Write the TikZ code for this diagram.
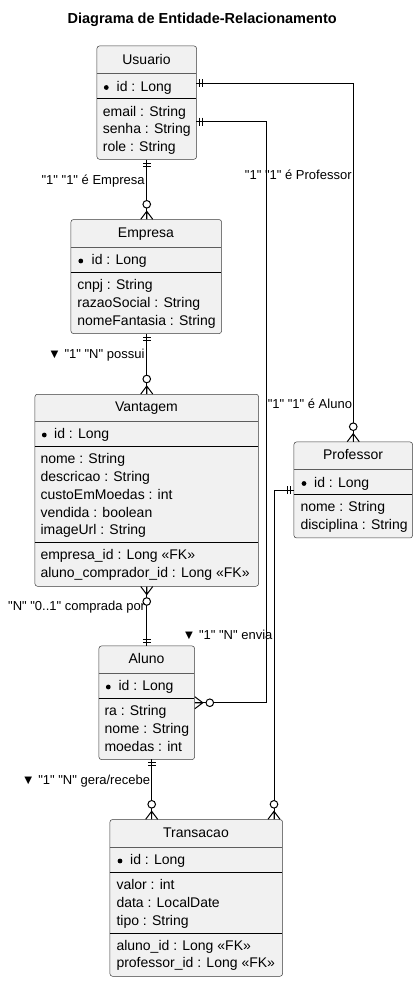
\documentclass[tikz,border=0pt]{standalone}
\usepackage{fontspec}
\setmainfont{Liberation Sans}[Ligatures=TeXOff]
\definecolor{fundo}{HTML}{F1F1F1}
\definecolor{borda}{HTML}{181818}

\tikzset{
    caixa/.style={draw=borda!85, line width=0.5pt, fill=fundo, rounded corners=2.5pt, inner sep=0pt, anchor=north west},
    linhatopo/.style={draw=borda!70, line width=0.5pt},
    linha/.style={draw=black, line width=1pt},
    titulo/.style={inner sep=0pt, font=\fontsize{14}{16}\selectfont, text height=10pt, text depth=3pt},
    attr/.style={titulo, anchor=west},
    rotulo/.style={inner sep=0pt, font=\fontsize{13}{15}\selectfont, text height=9.5pt, text depth=3pt},
    conector/.style={draw=black, line width=1pt},
    umsomente/.pic={\draw[conector] (3.5,-4) -- (3.5,4) (6.5,-4) -- (6.5,4);},
    zeromuitos/.pic={\draw[conector] (0,-6) -- (8,0) -- (0,6) (0,0) -- (8,0);
        \draw[conector, fill=white] (15,0) circle[radius=3.8pt];}
}

\begin{document}
\begin{tikzpicture}[x=1pt, y=-1pt]
    \useasboundingbox (0,0) rectangle (418,982);
    \node[font=\bfseries\fontsize{14.5}{16}\selectfont] (titulo) at (202.2,19.5) {Diagrama de Entidade-Relacionamento};

    % Usuario
    \node[caixa, minimum width=99.6pt, minimum height=113.3pt] (usuario) at (96.7,45.7) {};
    \node[titulo] at (146.5,60.5) {Usuario};
    \draw[linhatopo] (96.7,73.3) -- (196.3,73.3);
    \fill (106.3,87.5) circle[radius=2.4pt];
    \node[attr] at (116.5,87.7) {id : Long};
    \draw[linha] (96.7,98.7) -- (196.3,98.7);
    \node[attr] at (102.7,112.7) {email : String};
    \node[attr] at (102.7,130.3) {senha : String};
    \node[attr] at (102.7,147.9) {role : String};

    % Empresa
    \node[caixa, minimum width=150.6pt, minimum height=114pt] (empresa) at (70.7,219.3) {};
    \node[titulo] at (146,234) {Empresa};
    \draw[linhatopo] (70.7,247.5) -- (221.3,247.5);
    \fill (80.8,261) circle[radius=2.4pt];
    \node[attr] at (91.5,261) {id : Long};
    \draw[linha] (70.7,272) -- (221.3,272);
    \node[attr] at (77.2,286) {cnpj : String};
    \node[attr] at (77.2,303.8) {razaoSocial : String};
    \node[attr] at (77.2,321.6) {nomeFantasia : String};

    % Vantagem
    \node[caixa, minimum width=223.6pt, minimum height=192pt] (vantagem) at (34.7,394) {};
    \node[titulo] at (146.5,408.3) {Vantagem};
    \draw[linhatopo] (34.7,421.7) -- (258.3,421.7);
    \fill (44.3,435) circle[radius=2.4pt];
    \node[attr] at (54,435) {id : Long};
    \draw[linha] (34.7,446.3) -- (258.3,446.3);
    \node[attr] at (40.3,460.3) {nome : String};
    \node[attr] at (40.3,478.2) {descricao : String};
    \node[attr] at (40.3,496) {custoEmMoedas : int};
    \node[attr] at (40.3,513.5) {vendida : boolean};
    \node[attr] at (40.3,531.1) {imageUrl : String};
    \draw[linha] (34.7,542.7) -- (258.3,542.7);
    \node[attr] at (40.3,556.3) {empresa\_id : Long «FK»};
    \node[attr] at (40.3,574) {aluno\_comprador\_id : Long «FK»};

    % Professor
    \node[caixa, minimum width=118.6pt, minimum height=96pt] (professor) at (293.7,441.7) {};
    \node[titulo] at (353,456.3) {Professor};
    \draw[linhatopo] (293.7,469.3) -- (412.3,469.3);
    \fill (304,483.5) circle[radius=2.4pt];
    \node[attr] at (314,483.5) {id : Long};
    \draw[linha] (293.7,494.3) -- (412.3,494.3);
    \node[attr] at (300.3,508) {nome : String};
    \node[attr] at (300.3,525.7) {disciplina : String};

    % Aluno
    \node[caixa, minimum width=95.6pt, minimum height=113.6pt] (aluno) at (98.7,645.7) {};
    \node[titulo] at (146.5,660.3) {Aluno};
    \draw[linhatopo] (98.7,673.3) -- (194.3,673.3);
    \fill (108.3,687) circle[radius=2.4pt];
    \node[attr] at (118.3,687) {id : Long};
    \draw[linha] (98.7,698) -- (194.3,698);
    \node[attr] at (104.3,712.3) {ra : String};
    \node[attr] at (104.3,730) {nome : String};
    \node[attr] at (104.3,747.8) {moedas : int};

    % Transacao
    \node[caixa, minimum width=172.6pt, minimum height=156.7pt] (transacao) at (109.7,819.3) {};
    \node[titulo] at (196,834) {Transacao};
    \draw[linhatopo] (109.7,847.3) -- (282.3,847.3);
    \fill (120,861) circle[radius=2.4pt];
    \node[attr] at (130,861) {id : Long};
    \draw[linha] (109.7,872.3) -- (282.3,872.3);
    \node[attr] at (116.3,886.3) {valor : int};
    \node[attr] at (116.3,904.2) {data : LocalDate};
    \node[attr] at (116.3,922) {tipo : String};
    \draw[linha] (109.7,933.7) -- (282.3,933.7);
    \node[attr] at (116.3,946.5) {aluno\_id : Long «FK»};
    \node[attr] at (116.3,964.3) {professor\_id : Long «FK»};

    % ligacoes
    \coordinate (uP) at (196.3,83.3);
    \coordinate (uA) at (196.3,121.7);
    \coordinate (dobraA) at (266.3,121.7);
    \coordinate (pT) at (293.7,490);
    \coordinate (tP) at (274,819.3);
    \coordinate (aT) at (151.7,759.3);
    \coordinate (tA) at (151.7,819.3);

    \draw[conector] (usuario.south) -- (usuario.south |- empresa.north);
    \draw[conector] (uP) -| (professor.north);
    \draw[conector] (uA) -- (dobraA) |- (aluno.east);
    \draw[conector] (pT) -| (tP);
    \draw[conector] (vantagem.north |- empresa.south) -- (vantagem.north);
    \draw[conector] (vantagem.south) -- (aluno.north);
    \draw[conector] (aT) -- (tA);

    \pic[rotate=-90] at (usuario.south) {umsomente};
    \pic[rotate=90] at (usuario.south |- empresa.north) {zeromuitos};
    \pic at (uP) {umsomente};
    \pic[rotate=90] at (professor.north) {zeromuitos};
    \pic at (uA) {umsomente};
    \pic at (aluno.east) {zeromuitos};
    \pic[rotate=180] at (pT) {umsomente};
    \pic[rotate=90] at (tP) {zeromuitos};
    \pic[rotate=-90] at (vantagem.north |- empresa.south) {umsomente};
    \pic[rotate=90] at (vantagem.north) {zeromuitos};
    \pic[rotate=-90] at (vantagem.south) {zeromuitos};
    \pic[rotate=90] at (aluno.north) {umsomente};
    \pic[rotate=-90] at (aT) {umsomente};
    \pic[rotate=90] at (tA) {zeromuitos};

    \node[rotulo, anchor=east] (rotEmpresa) at (144.8,181.7) {"1" "1" é Empresa};
    \node[rotulo, anchor=east] (rotProfessor) at (351.8,176) {"1" "1" é Professor};
    \node[rotulo, anchor=east] (rotPossui) at (144.6,355.3) {▼ "1" "N" possui};
    \node[rotulo, anchor=east] (rotAluno) at (352.2,405.7) {"1" "1" é Aluno};
    \node[rotulo, anchor=east] (rotComprada) at (145.3,607.3) {"N" "0..1" comprada por};
    \node[rotulo, anchor=east] (rotEnvia) at (272.6,636.7) {▼ "1" "N" envia};
    \node[rotulo, anchor=east] (rotGera) at (150.2,781.3) {▼ "1" "N" gera/recebe};
\end{tikzpicture}
\end{document}
